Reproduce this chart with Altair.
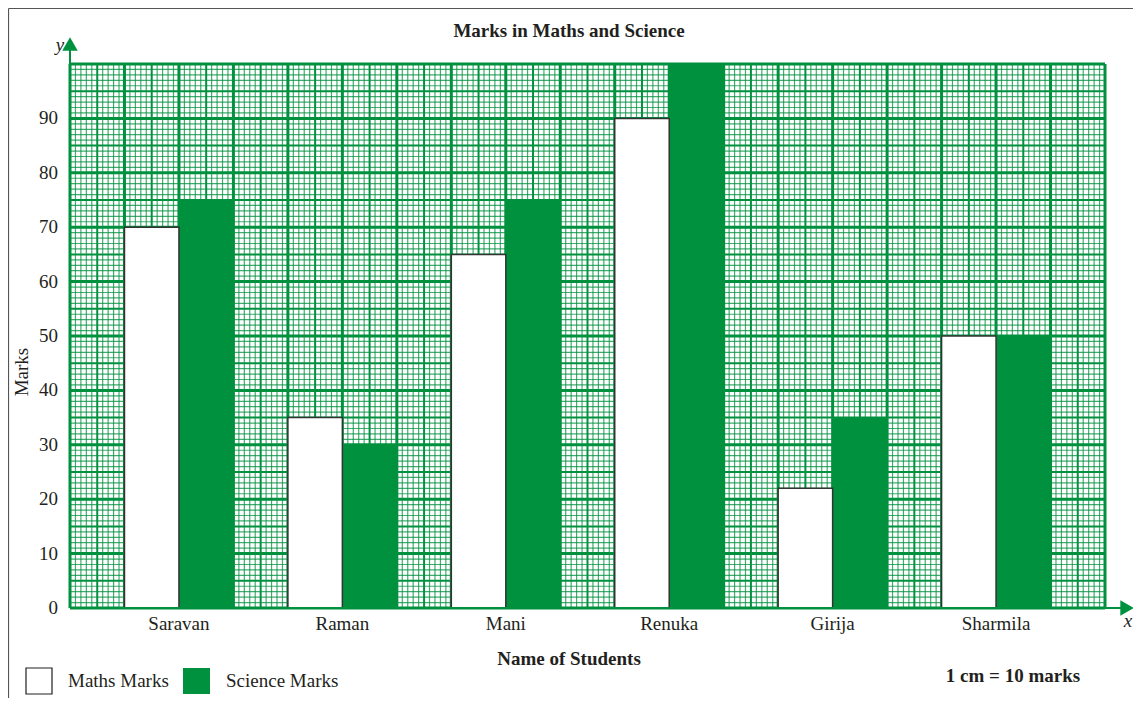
import altair as alt
import pandas as pd

# ---------------- data ----------------
students = ["Saravan", "Raman", "Mani", "Renuka", "Girija", "Sharmila"]
maths = [70, 35, 65, 90, 22, 50]
science = [75, 30, 75, 100, 35, 50]
y_ticks = [0, 10, 20, 30, 40, 50, 60, 70, 80, 90]

GREEN = "#00913f"
INK = "#231f20"
FONT = "Liberation Serif"
FS = 19
W, H = 1035, 544
XMAX, YMAX = 19, 100

xs = alt.Scale(domain=[0, XMAX], nice=False, zero=False)
ys = alt.Scale(domain=[0, YMAX], nice=False, zero=False)

rows = []
for i, s in enumerate(students):
    rows.append(dict(student=s, subject="Maths", marks=maths[i], base=0, x0=3 * i + 1, x1=3 * i + 2))
    rows.append(dict(student=s, subject="Science", marks=science[i], base=0, x0=3 * i + 2, x1=3 * i + 3))
bars = pd.DataFrame(rows)
labels = pd.DataFrame({"student": students, "xc": [3 * i + 2 for i in range(len(students))]})
yt = pd.DataFrame({"v": y_ticks, "lab": [str(v) for v in y_ticks]})


def kind(k):
    return "major" if k % 10 == 0 else ("medium" if k % 5 == 0 else "minor")


vgrid = pd.DataFrame({"k": list(range(XMAX * 10 + 1))})
vgrid["pos"] = vgrid.k / 10
vgrid["lo"] = 0
vgrid["hi"] = YMAX
vgrid["kind"] = vgrid.k.map(kind)
hgrid = pd.DataFrame({"k": list(range(YMAX + 1))})
hgrid["pos"] = hgrid.k
hgrid["lo"] = 0
hgrid["hi"] = XMAX
hgrid["kind"] = hgrid.k.map(kind)

styles = {
    "minor": dict(strokeWidth=1.2, opacity=0.75),
    "medium": dict(strokeWidth=2, opacity=1),
    "major": dict(strokeWidth=3, opacity=1),
}

layers = []
for kd in ["minor", "medium", "major"]:
    st = styles[kd]
    layers.append(
        alt.Chart(vgrid[vgrid.kind == kd]).mark_rule(color=GREEN, **st).encode(
            x=alt.X("pos:Q", scale=xs, axis=None),
            y=alt.Y("lo:Q", scale=ys, axis=None),
            y2="hi:Q",
        )
    )
    layers.append(
        alt.Chart(hgrid[hgrid.kind == kd]).mark_rule(color=GREEN, **st).encode(
            y=alt.Y("pos:Q", scale=ys, axis=None),
            x=alt.X("lo:Q", scale=xs, axis=None),
            x2="hi:Q",
        )
    )

# bars
layers.append(
    alt.Chart(bars[bars.subject == "Science"]).mark_rect(fill=GREEN, strokeWidth=0).encode(
        x=alt.X("x0:Q", scale=xs, axis=None),
        x2="x1:Q",
        y=alt.Y("marks:Q", scale=ys, axis=None),
        y2="base:Q",
    )
)
layers.append(
    alt.Chart(bars[bars.subject == "Maths"]).mark_rect(fill="white", stroke="#333333", strokeWidth=1.5).encode(
        x=alt.X("x0:Q", scale=xs, axis=None),
        x2="x1:Q",
        y=alt.Y("marks:Q", scale=ys, axis=None),
        y2="base:Q",
    )
)

# y tick labels
layers.append(
    alt.Chart(yt).mark_text(font=FONT, fontSize=FS, color=INK, baseline="middle", align="right").encode(
        y=alt.Y("v:Q", scale=ys, axis=None),
        x=alt.value(-12),
        text="lab:N",
    )
)

# student names
layers.append(
    alt.Chart(labels).mark_text(font=FONT, fontSize=FS, color=INK, baseline="middle").encode(
        x=alt.X("xc:Q", scale=xs, axis=None),
        y=alt.value(H + 16),
        text="student:N",
    )
)

one = pd.DataFrame({"a": [0]})


def rule(x, x2, y, y2, color, width):
    return alt.Chart(one).mark_rule(color=color, strokeWidth=width).encode(
        x=alt.value(x), x2=alt.value(x2), y=alt.value(y), y2=alt.value(y2)
    )


def text(t, x, y, size=FS, bold=False, italic=False, angle=0, align="center"):
    kw = dict(font=FONT, fontSize=size, color=INK, baseline="middle", align=align)
    if bold:
        kw["fontWeight"] = "bold"
    if italic:
        kw["fontStyle"] = "italic"
    if angle:
        kw["angle"] = angle
    return alt.Chart(one).mark_text(**kw).encode(
        x=alt.value(x), y=alt.value(y), text=alt.value(t)
    )


def point(shape, x, y, size):
    return alt.Chart(one).mark_point(shape=shape, filled=True, color=GREEN, opacity=1, size=size).encode(
        x=alt.value(x), y=alt.value(y)
    )


# axes lines and arrows
layers.append(rule(0, 0, -16, H, GREEN, 2))
layers.append(rule(0, W + 16, H, H, GREEN, 2))
layers.append(point("triangle-up", 0, -20, 240))
layers.append(point("triangle-right", W + 22, H, 240))
layers.append(text("y", -10, -19, italic=True))
layers.append(text("x", W + 23, H + 13, italic=True))

# frame
layers.append(rule(-61.5, W + 60, -55.5, -55.5, "#555555", 1.2))
layers.append(rule(-61.5, -61.5, -55.5, H + 100, "#555555", 1.2))

# titles
layers.append(text("Marks in Maths and Science", 499, -33, bold=True))
layers.append(text("Marks", -48, 308, angle=270))
layers.append(text("Name of Students", 499, 595, bold=True))
layers.append(text("1 cm = 10 marks", 943, 612, bold=True))

# legend
layers.append(
    alt.Chart(one).mark_rect(fill="white", stroke=INK, strokeWidth=1.2).encode(
        x=alt.value(-44), x2=alt.value(-18), y=alt.value(604), y2=alt.value(630)
    )
)
layers.append(
    alt.Chart(one).mark_rect(fill=GREEN).encode(
        x=alt.value(113), x2=alt.value(140), y=alt.value(604), y2=alt.value(630)
    )
)
layers.append(text("Maths Marks", -2, 617, align="left"))
layers.append(text("Science Marks", 156, 617, align="left"))

chart = alt.layer(*layers).properties(
    width=W,
    height=H,
    autosize=alt.AutoSizeParams(type="none"),
    padding={"left": 62, "top": 56, "right": 28, "bottom": 90},
    background="white",
).configure_view(stroke=None)

chart.save("out.html", embed_options={"renderer": "svg", "actions": False})
